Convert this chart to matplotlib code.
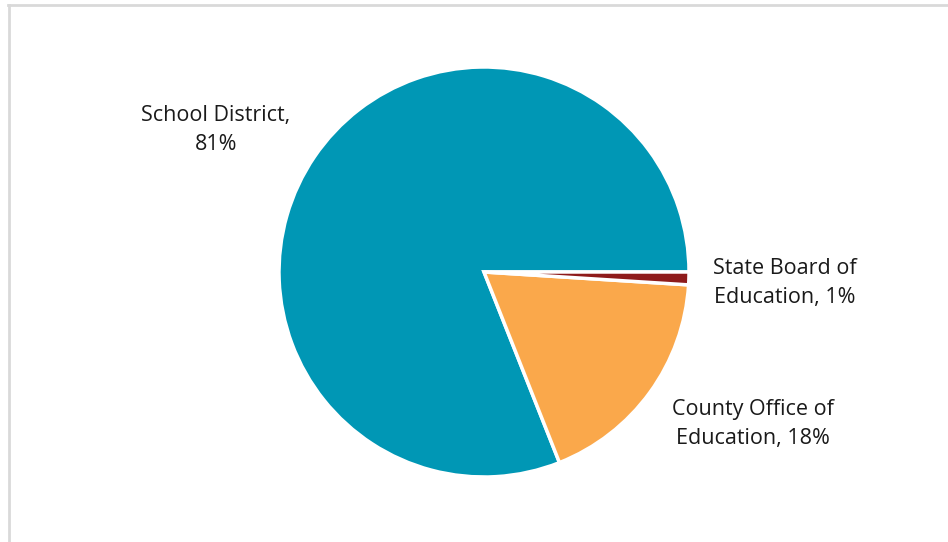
import matplotlib.pyplot as plt
from matplotlib.lines import Line2D

# share of records by agency
labels = ["School District", "County Office of\nEducation", "State Board of\nEducation"]
shares = [81, 18, 1]
colors = ["#0097B5", "#FAA84B", "#8E1B1B"]

W, H = 948, 542
fig = plt.figure(figsize=(W / 100, H / 100), dpi=100)
ax = fig.add_axes([0, 0, 1, 1])

ax.pie(shares, colors=colors, startangle=0, counterclock=True,
       center=(484, H - 272), radius=205, frame=True,
       wedgeprops=dict(edgecolor="white", linewidth=2.5))
ax.set_xlim(0, W)
ax.set_ylim(0, H)
ax.set_aspect("equal")
ax.axis("off")

# data labels placed outside the slices
label_pos = [(216, H - 130), (753, H - 424), (785, H - 283)]
for name, val, (x, y) in zip(labels, shares, label_pos):
    ax.text(x, y, f"{name}, {val}%" if "\n" in name else f"{name},\n{val}%",
            ha="center", va="center", fontsize=15.5, color="#1a1a1a",
            family="Open Sans", linespacing=1.45)

# light frame along top and left edges
fig.add_artist(Line2D([8 / W, 947 / W], [1 - 4.5 / H, 1 - 4.5 / H],
                      color="#D9D9D9", lw=2, transform=fig.transFigure))
fig.add_artist(Line2D([8.5 / W, 8.5 / W], [0, 1 - 4.5 / H],
                      color="#D9D9D9", lw=2, transform=fig.transFigure))

fig.savefig("out.png", dpi=100, facecolor="white")
